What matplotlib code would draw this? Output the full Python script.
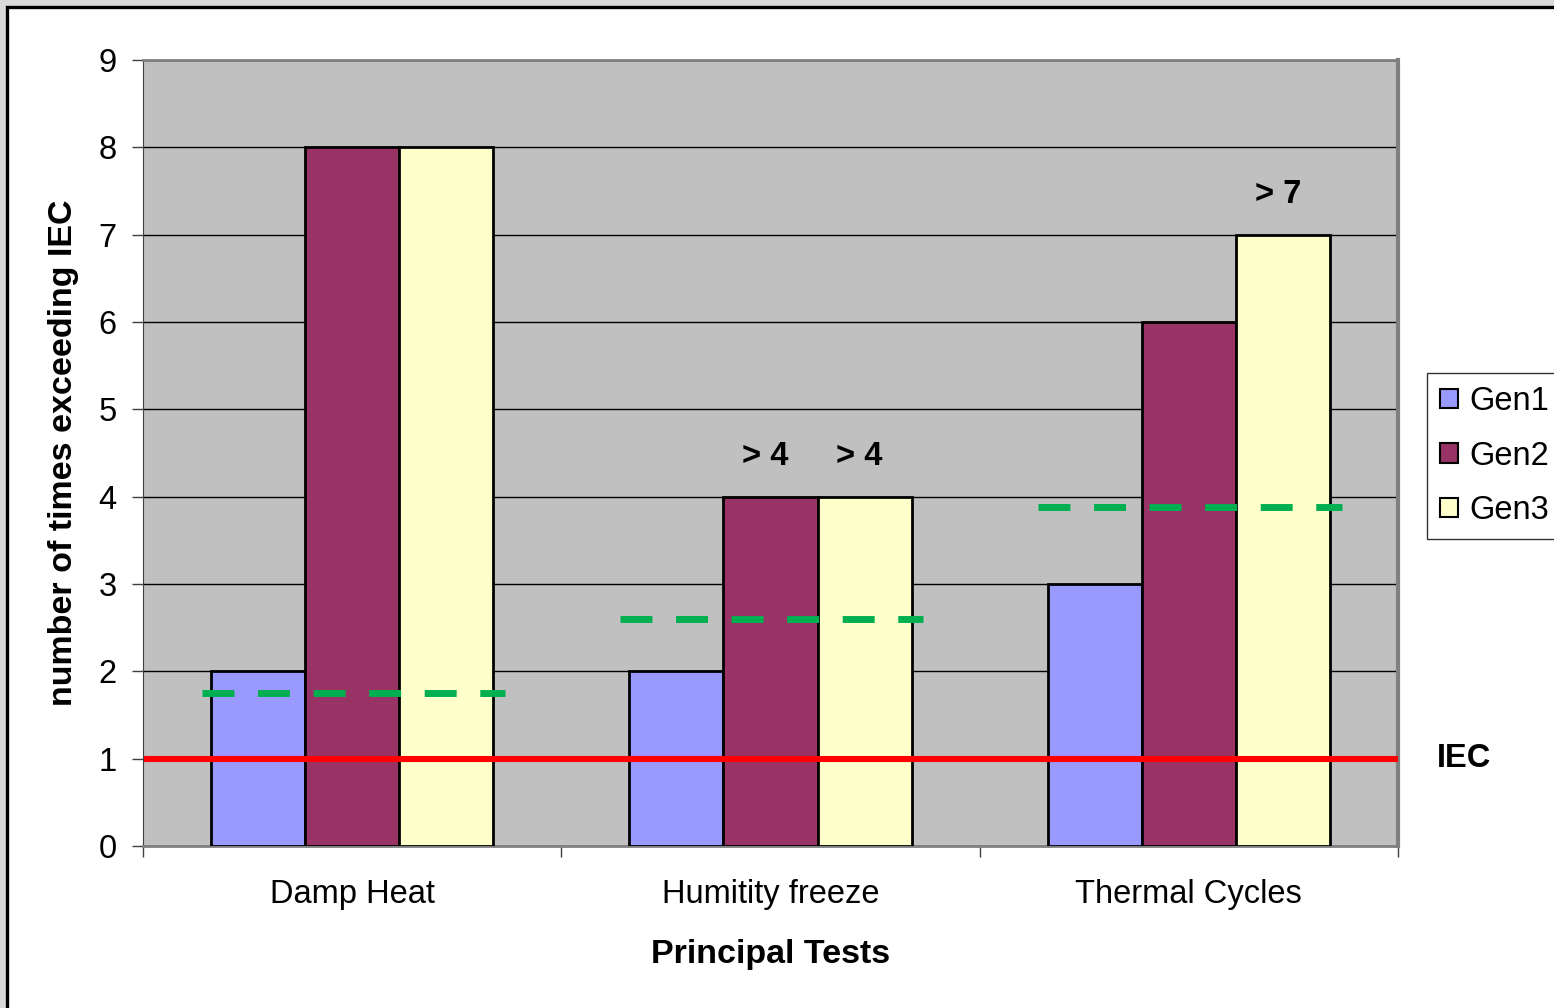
import matplotlib
matplotlib.use("Agg")
import matplotlib.pyplot as plt
import matplotlib.transforms as mtransforms
from matplotlib.patches import Rectangle
import numpy as np

plt.rcParams['font.family'] = ['Liberation Sans', 'DejaVu Sans']

# data
tests = ["Damp Heat", "Humitity freeze", "Thermal Cycles"]
series = ["Gen1", "Gen2", "Gen3"]
gen1 = [2, 2, 3]
gen2 = [8, 4, 6]
gen3 = [8, 4, 7]
green_level = [1.75, 2.6, 3.88]
iec_level = 1
notes = [(1, "Gen2", "> 4"), (1, "Gen3", "> 4"), (2, "Gen3", "> 7")]

colors = ["#9999FF", "#993366", "#FFFFCC"]

fig = plt.figure(figsize=(15.54, 10.08), dpi=100, facecolor="#d9d9d9")
# white chart area with its black frame (runs past right and bottom edge)
fig.patches.append(Rectangle((6.5 / 1554, -0.05), 1.2, 1.05 - 6.5 / 1008,
                             transform=fig.transFigure, facecolor="white",
                             edgecolor="black", linewidth=2.4, zorder=-10))

ax = fig.add_axes([143 / 1554, 1 - 846 / 1008, 1255 / 1554, 786 / 1008])
ax.set_facecolor("#C0C0C0")

x = np.arange(len(tests))
w = 0.225
vals = [gen1, gen2, gen3]
for i, (name, v) in enumerate(zip(series, vals)):
    ax.bar(x + (i - 1) * w, v, w, color=colors[i], edgecolor="black",
           linewidth=2, label=name, zorder=3)

# green dashed markers per test
for xi, lvl in zip(x, green_level):
    ax.plot([xi - 0.36, xi + 0.365], [lvl, lvl], color="#00B050", lw=5,
            dashes=(4.6, 3.4), solid_capstyle="butt", zorder=4)

# IEC reference line
ax.axhline(iec_level, xmin=0.003, xmax=1, color="#FF0000", lw=4.4, zorder=5)
trans = mtransforms.blended_transform_factory(ax.transAxes, ax.transData)
ax.text(1.031, iec_level, "IEC", transform=trans, fontsize=23.5,
        fontweight="bold", va="center", ha="left", clip_on=False)

for gi, s, txt in notes:
    k = series.index(s)
    ax.text(x[gi] + (k - 1) * w - 0.012, vals[k][gi] + 0.46, txt, fontsize=23.5,
            fontweight="bold", ha="center", va="center", zorder=6)

ax.set_xlim(-0.5, 2.5)
ax.set_ylim(0, 9)
ax.set_yticks(range(0, 10))
ax.yaxis.grid(True, color="black", lw=1)
ax.set_axisbelow(True)

ax.set_xticks(x)
ax.set_xticklabels(tests)
ax.set_xticks([-0.5, 0.5, 1.5, 2.5], minor=True)
ax.tick_params(axis="x", which="major", length=0, pad=24, labelsize=23.5)
ax.tick_params(axis="x", which="minor", length=8, width=1, color="#404040")
ax.tick_params(axis="y", length=8, width=1, pad=11, labelsize=23.5, color="#404040")

ax.set_xlabel("Principal Tests", fontsize=24.5, fontweight="bold", labelpad=21)
ax.set_ylabel("number of times exceeding IEC", fontsize=24.5, fontweight="bold",
              labelpad=14)

ax.spines["left"].set_color("#404040")
ax.spines["bottom"].set_color("#808080")
ax.spines["top"].set_color("#808080")
ax.spines["top"].set_linewidth(2)
ax.spines["right"].set_color("#808080")
ax.spines["right"].set_linewidth(3)
ax.spines["bottom"].set_linewidth(2)

leg = ax.legend(loc="upper left", bbox_to_anchor=(1427 / 1554, 1 - 373 / 1008),
                bbox_transform=fig.transFigure, fontsize=23.5, frameon=True,
                fancybox=False, edgecolor="black", handlelength=0.55,
                handleheight=0.55, handletextpad=0.35, labelspacing=0.72,
                borderpad=0.4, borderaxespad=0)
leg.get_frame().set_linewidth(1)
for p in leg.get_patches():
    p.set_linewidth(1.5)

fig.savefig("out.png", dpi=100, facecolor=fig.get_facecolor())
